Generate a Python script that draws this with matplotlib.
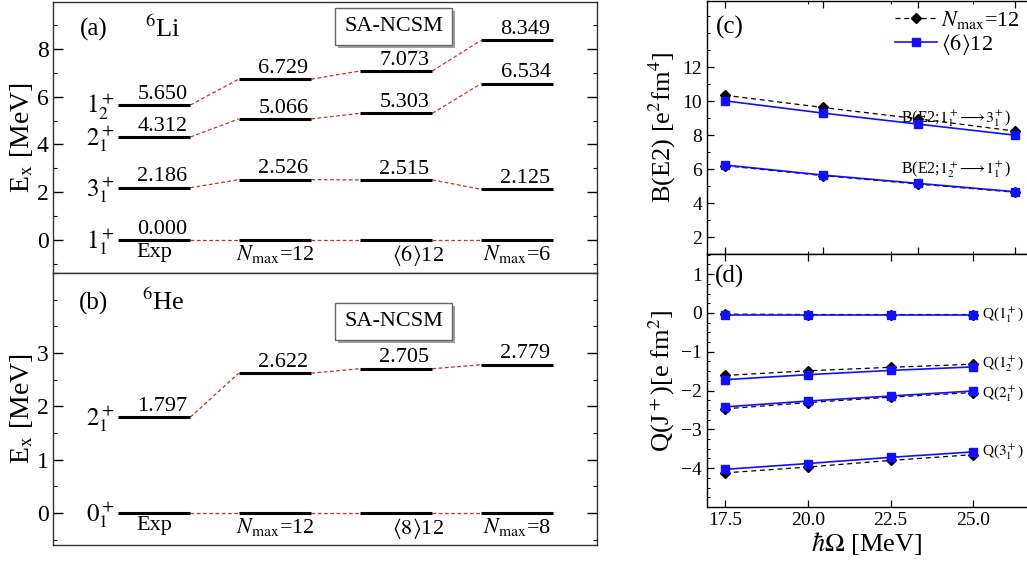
import matplotlib
matplotlib.use('Agg')
import matplotlib.pyplot as plt
from matplotlib.ticker import MultipleLocator, FixedLocator, NullFormatter, FormatStrFormatter
from matplotlib.patches import Rectangle
from matplotlib.transforms import IdentityTransform

# ── level schemes (MeV) ──────────────────────────────────
LI_COLUMNS = ['Exp', r'$N_{\rm max}$=12', r'$\langle 6\rangle$12', r'$N_{\rm max}$=6']
LI_STATES  = [r'$1_1^+$', r'$3_1^+$', r'$2_1^+$', r'$1_2^+$']
LI_EXP     = [0.000, 2.186, 4.312, 5.650]
LI_NMAX12  = [0.000, 2.526, 5.066, 6.729]
LI_SA612   = [0.000, 2.515, 5.303, 7.073]
LI_NMAX6   = [0.000, 2.125, 6.534, 8.349]

HE_COLUMNS = ['Exp', r'$N_{\rm max}$=12', r'$\langle 8\rangle$12', r'$N_{\rm max}$=8']
HE_STATES  = [r'$0_1^+$', r'$2_1^+$']
HE_EXP     = [0.000, 1.797]
HE_NMAX12  = [0.000, 2.622]
HE_SA812   = [0.000, 2.705]
HE_NMAX8   = [0.000, 2.779]

# ── hbar-omega dependence ────────────────────────────────
HW_C = [17.5, 20.45, 23.33, 26.25]
HW_D = [17.5, 20.0, 22.5, 25.0]

BE2_31_NMAX12 = [10.35, 9.63, 8.96, 8.24]
BE2_31_SA     = [10.02, 9.30, 8.65, 8.00]
BE2_12_NMAX12 = [6.20, 5.62, 5.12, 4.64]
BE2_12_SA     = [6.24, 5.65, 5.16, 4.67]

Q11_NMAX12 = [-0.03, -0.04, -0.04, -0.04]
Q11_SA     = [-0.06, -0.06, -0.06, -0.06]
Q12_NMAX12 = [-1.61, -1.49, -1.40, -1.32]
Q12_SA     = [-1.72, -1.59, -1.48, -1.39]
Q21_NMAX12 = [-2.47, -2.31, -2.17, -2.05]
Q21_SA     = [-2.42, -2.27, -2.14, -2.01]
Q31_NMAX12 = [-4.12, -3.97, -3.80, -3.65]
Q31_SA     = [-4.03, -3.88, -3.72, -3.58]

plt.rcParams['font.family'] = ['Liberation Serif', 'DejaVu Serif']
plt.rcParams['mathtext.fontset'] = 'stix'

W, H = 1027, 561
BAR_HALF = 0.3
LINK_RED = '#d22b2b'
BLUE = '#1010ff'


def px_box(x0, y0, x1, y1):
    # pixel rectangle (top-left origin) -> figure fraction [l, b, w, h]
    return [x0 / W, 1 - y1 / H, (x1 - x0) / W, (y1 - y0) / H]


def style_levels_axis(ax, ylim, major, minor):
    ax.set_xlim(-0.835, 3.661)
    ax.set_ylim(*ylim)
    ax.set_xticks([])
    ax.yaxis.set_major_locator(MultipleLocator(major))
    ax.yaxis.set_minor_locator(MultipleLocator(minor))
    ax.tick_params(axis='y', which='both', direction='in', left=True, right=True,
                   labelsize=17)
    ax.tick_params(axis='y', which='major', length=7, width=1.0, pad=3)
    ax.tick_params(axis='y', which='minor', length=3, width=0.8)
    for sp in ax.spines.values():
        sp.set_linewidth(1.0)
        sp.set_color('#333333')


def draw_levels(ax, columns, states, energies, label_zero):
    # energies: list of columns, each a list of levels in the same state order
    for i, col in enumerate(energies):
        for j, e in enumerate(col):
            ax.plot([i - BAR_HALF, i + BAR_HALF], [e, e], color='black', lw=2.2,
                    solid_capstyle='butt', zorder=3)
            if e > 0 or (label_zero and i == 0):
                ax.annotate(f'{e:.3f}', (i + BAR_HALF, e), xytext=(-2, 1),
                            textcoords='offset points', ha='right', va='bottom',
                            fontsize=16)
            if i + 1 < len(energies):
                e2 = energies[i + 1][j]
                ax.plot([i + BAR_HALF, i + 1 - BAR_HALF], [e, e2], color=LINK_RED,
                        lw=0.9, dashes=(3, 2), zorder=2)
    for j, s in enumerate(states):
        ax.annotate(s, (-BAR_HALF, energies[0][j]), xytext=(-2, -1),
                    textcoords='offset points', ha='right', va='center', fontsize=18)
    for i, name in enumerate(columns):
        dx = 0.18 if i == 2 else 0.0
        ax.annotate(name, (i + dx, 0), xytext=(0, -2), textcoords='offset points',
                    ha='center', va='top', fontsize=16)


def sa_ncsm_box(ax, x, y):
    return ax.text(x, y, 'SA-NCSM', ha='center', va='center', fontsize=16,
                   bbox=dict(boxstyle='square,pad=0.4', fc='white', ec='#666666',
                             lw=1.0), zorder=5)


def add_box_shadow(ax, label, offset=3):
    # grey drop shadow behind the label's frame, in display pixels
    bb = label.get_bbox_patch().get_window_extent()
    ax.add_patch(Rectangle((bb.x0 + offset, bb.y0 - offset), bb.width, bb.height,
                           transform=IdentityTransform(), fc='#a0a0a0', ec='none',
                           zorder=4))


def style_right_axis(ax, ylim, major, minor):
    ax.set_xlim(16.956, 26.62)
    ax.set_ylim(*ylim)
    ax.yaxis.set_major_locator(MultipleLocator(major))
    ax.yaxis.set_minor_locator(MultipleLocator(minor))
    ax.tick_params(axis='both', which='both', direction='in', top=True, right=False,
                   labelsize=14)
    ax.tick_params(axis='both', which='major', length=5, width=0.9)
    ax.tick_params(axis='both', which='minor', length=2.5, width=0.7)
    ax.spines['right'].set_visible(False)
    for sp in ax.spines.values():
        sp.set_linewidth(1.0)


def pair(ax, x, y_nmax, y_sa, label=True):
    ax.plot(x, y_nmax, color='black', lw=0.9, dashes=(4, 3), marker='D', ms=5.5,
            label=r'$N_{\rm max}$=12' if label else None, zorder=3)
    ax.plot(x, y_sa, color=BLUE, lw=1.2, marker='s', ms=6,
            label=r'$\langle 6\rangle$12' if label else None, zorder=4)


def main():
    fig = plt.figure(figsize=(W / 100, H / 100), dpi=100)

    # ── (a) 6Li ───────────────────────────────────────────
    ax_a = fig.add_axes(px_box(53, 2, 597, 273))
    style_levels_axis(ax_a, (-1.38, 9.96), 2, 1)
    draw_levels(ax_a, LI_COLUMNS, LI_STATES,
                [LI_EXP, LI_NMAX12, LI_SA612, LI_NMAX6], label_zero=True)
    ax_a.text(-0.5, 8.8, '(a)', ha='center', va='center', fontsize=18)
    ax_a.text(0.07, 8.85, r'$^{6}$Li', ha='center', va='center', fontsize=19)
    box_a = sa_ncsm_box(ax_a, 1.98, 8.93)
    ax_a.set_ylabel(r'E$_{\rm x}$ [MeV]', fontsize=20)
    ax_a.yaxis.set_label_coords(-0.034, 0.5)

    # ── (b) 6He ───────────────────────────────────────────
    ax_b = fig.add_axes(px_box(53, 273, 597, 545))
    style_levels_axis(ax_b, (-0.6, 4.5), 1, 0.5)
    draw_levels(ax_b, HE_COLUMNS, HE_STATES,
                [HE_EXP, HE_NMAX12, HE_SA812, HE_NMAX8], label_zero=False)
    ax_b.set_yticks([0, 1, 2, 3])
    ax_b.text(-0.5, 3.92, '(b)', ha='center', va='center', fontsize=18)
    ax_b.text(0.08, 3.95, r'$^{6}$He', ha='center', va='center', fontsize=19)
    box_b = sa_ncsm_box(ax_b, 1.98, 3.59)
    ax_b.set_ylabel(r'E$_{\rm x}$ [MeV]', fontsize=20)
    ax_b.yaxis.set_label_coords(-0.034, 0.5)

    # ── (c) B(E2) ─────────────────────────────────────────
    ax_c = fig.add_axes(px_box(707, 1, 1027, 254))
    style_right_axis(ax_c, (1.0, 15.9), 2, 1)
    ax_c.set_yticks([2, 4, 6, 8, 10, 12])
    ax_c.xaxis.set_major_locator(FixedLocator(HW_C))
    ax_c.xaxis.set_minor_locator(FixedLocator(HW_D))
    ax_c.xaxis.set_major_formatter(NullFormatter())
    pair(ax_c, HW_C, BE2_31_NMAX12, BE2_31_SA)
    pair(ax_c, HW_C, BE2_12_NMAX12, BE2_12_SA, label=False)
    ax_c.text(24.48, 8.95, r'B(E2;$1_1^+\!\longrightarrow\!3_1^+$)', ha='center',
              va='center', fontsize=11.5)
    ax_c.text(24.48, 5.95, r'B(E2;$1_2^+\!\longrightarrow\!1_1^+$)', ha='center',
              va='center', fontsize=11.5)
    ax_c.text(17.65, 14.37, '(c)', ha='center', va='center', fontsize=18)
    ax_c.legend(loc='upper right', frameon=False, fontsize=16, handlelength=1.9,
                handletextpad=0.15, labelspacing=0.05, borderaxespad=0.25,
                borderpad=0.1)
    ax_c.set_ylabel(r'B(E2) [e$^2$fm$^4$]', fontsize=19)
    ax_c.yaxis.set_label_coords(-0.091, 0.5)

    # ── (d) quadrupole moments ────────────────────────────
    ax_d = fig.add_axes(px_box(707, 254, 1027, 507))
    style_right_axis(ax_d, (-5.0, 1.52), 1, 0.25)
    ax_d.set_yticks([-4, -3, -2, -1, 0, 1])
    ax_d.xaxis.set_major_locator(FixedLocator(HW_D))
    ax_d.xaxis.set_major_formatter(FormatStrFormatter('%.1f'))
    ax_d.xaxis.set_minor_locator(FixedLocator([]))
    for y_n, y_s, name, ylab in [
            (Q11_NMAX12, Q11_SA, r'Q($1_1^+$)', -0.04),
            (Q12_NMAX12, Q12_SA, r'Q($1_2^+$)', -1.33),
            (Q21_NMAX12, Q21_SA, r'Q($2_1^+$)', -2.10),
            (Q31_NMAX12, Q31_SA, r'Q($3_1^+$)', -3.58)]:
        pair(ax_d, HW_D, y_n, y_s, label=False)
        ax_d.text(25.27, ylab, name, ha='left', va='center', fontsize=11)
    ax_d.text(17.65, 0.93, '(d)', ha='center', va='center', fontsize=18)
    ax_d.set_xlabel(r'$\hbar\Omega$ [MeV]', fontsize=19, labelpad=1)
    ax_d.set_ylabel(r'Q(J$^+$)[e fm$^2$]', fontsize=19)
    ax_d.yaxis.set_label_coords(-0.094, 0.5)

    fig.canvas.draw()
    add_box_shadow(ax_a, box_a)
    add_box_shadow(ax_b, box_b)

    fig.savefig('out.png', dpi=100)
    plt.close(fig)


if __name__ == '__main__':
    main()
